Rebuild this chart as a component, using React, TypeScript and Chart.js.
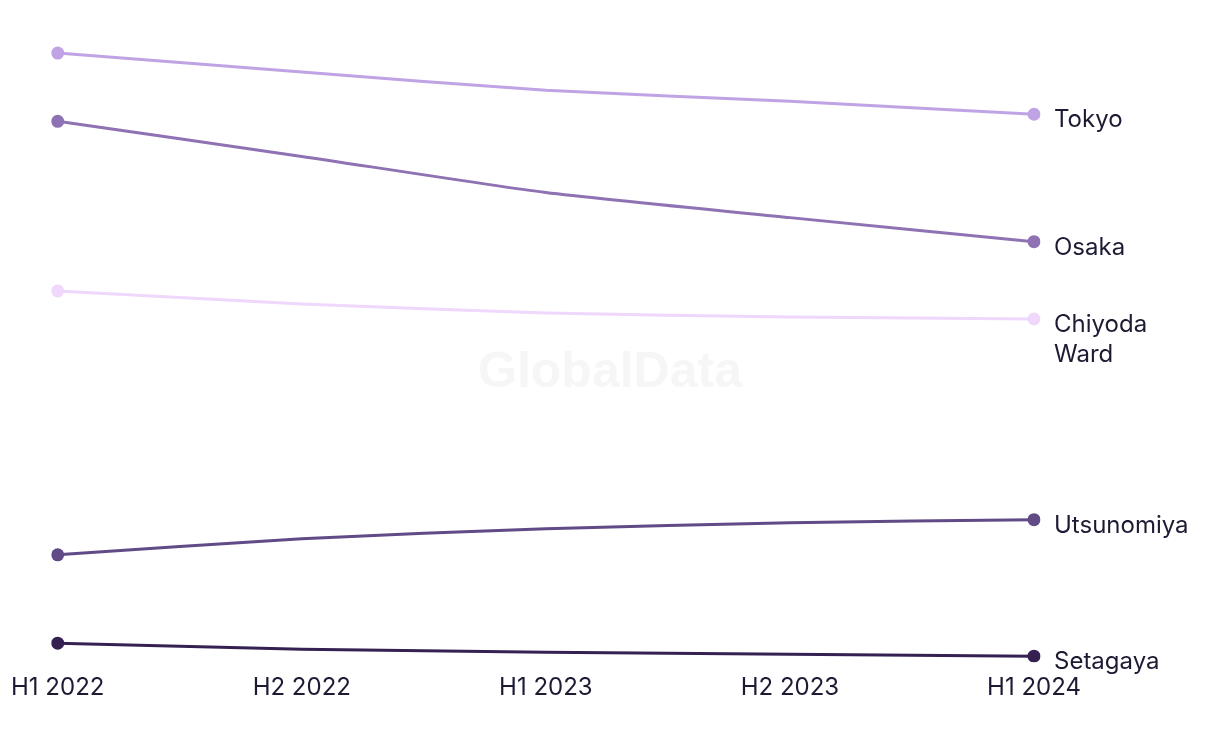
import React, { useEffect, useRef } from "react";
import { Chart, registerables } from "chart.js";

Chart.register(...registerables);

const periods = ["H1 2022", "H2 2022", "H1 2023", "H2 2023", "H1 2024"];
const seriesNames = ["Tokyo", "Osaka", "Chiyoda Ward", "Utsunomiya", "Setagaya"];
const endLabels = [["Tokyo"], ["Osaka"], ["Chiyoda", "Ward"], ["Utsunomiya"], ["Setagaya"]];
const tokyo = [647, 628, 610, 599, 586];
const osaka = [579, 544, 508, 483, 459];
const chiyoda = [410, 397, 388, 384, 382];
const utsunomiya = [147, 163, 173, 179, 182];
const setagaya = [59, 53, 50, 48, 46];
const colors = ["#c0a3e5", "#8e72b3", "#f0d7fc", "#604b87", "#342152"];

const allSeries = [tokyo, osaka, chiyoda, utsunomiya, setagaya];

const FONT = "Inter, 'Noto Sans', sans-serif";

const watermark = {
  id: "watermark",
  beforeDraw(chart: any) {
    const { ctx, width, height } = chart;
    ctx.save();
    ctx.font = "bold 50px 'Liberation Sans', Arial, sans-serif";
    ctx.fillStyle = "#f6f6f6";
    ctx.textAlign = "center";
    ctx.textBaseline = "middle";
    ctx.fillText("GlobalData", width / 2, height / 2 + 1);
    ctx.restore();
  },
};

const endLabelPlugin = {
  id: "endLabels",
  afterDatasetsDraw(chart: any) {
    const { ctx } = chart;
    ctx.save();
    ctx.font = `24px ${FONT}`;
    ctx.fillStyle = "#1c1b33";
    ctx.textAlign = "left";
    ctx.textBaseline = "middle";
    chart.data.datasets.forEach((ds: any, i: number) => {
      const meta = chart.getDatasetMeta(i);
      const pt = meta.data[meta.data.length - 1];
      const lines = endLabels[i];
      lines.forEach((line, j) => {
        ctx.fillText(line, pt.x + 20, pt.y + 6 + j * 30);
      });
    });
    ctx.restore();
  },
};

export default function App() {
  const ref = useRef<HTMLCanvasElement>(null);
  useEffect(() => {
    if (!ref.current) return;
    const chart = new Chart(ref.current, {
      type: "line",
      data: {
        labels: periods,
        datasets: allSeries.map((d, i) => ({
          label: seriesNames[i],
          data: d,
          borderColor: colors[i],
          backgroundColor: colors[i],
          borderWidth: 3,
          pointRadius: d.map((_, k) => (k === 0 || k === d.length - 1 ? 6.5 : 0)),
          pointHoverRadius: 6.5,
          pointBorderWidth: 0,
          tension: 0.2,
          fill: false,
        })),
      },
      options: {
        animation: false,
        responsive: false,
        maintainAspectRatio: false,
        layout: { padding: { top: 32, right: 178, left: 46, bottom: 31 } },
        plugins: {
          legend: { display: false },
          tooltip: { enabled: false },
        },
        scales: {
          x: {
            offset: false,
            grid: { display: false },
            border: { display: false },
            ticks: {
              color: "#1c1b33",
              font: { family: FONT, size: 24 },
              padding: 3,
              maxRotation: 0,
            },
          },
          y: {
            display: false,
            min: 40,
            max: 660,
          },
        },
      },
      plugins: [watermark, endLabelPlugin],
    });
    return () => chart.destroy();
  }, []);
  return (
    <div style={{ width: 1204, height: 728 }}>
      <canvas ref={ref} width={1204} height={728} style={{ display: "block" }} />
    </div>
  );
}
